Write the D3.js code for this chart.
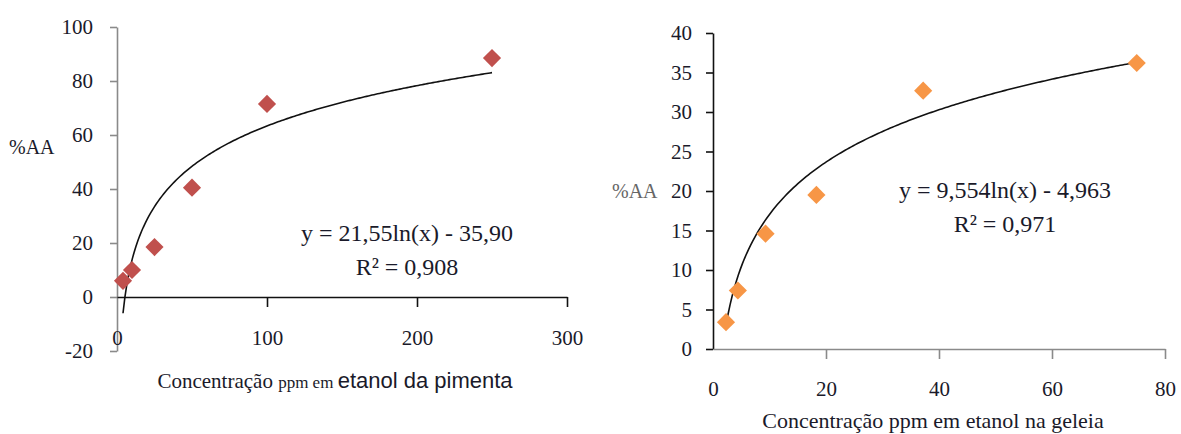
<!DOCTYPE html>
<html>
<head>
<meta charset="utf-8">
<script src="https://cdn.jsdelivr.net/npm/d3@7"></script>
<style>
  html, body { margin: 0; padding: 0; background: #fff; }
  svg { display: block; }
</style>
</head>
<body>
<svg id="chart" width="1181" height="434"></svg>
<script>
// Pepper extract (left panel)
const pepperConc = [4, 10, 25, 50, 100, 250];
const pepperAA   = [6, 10, 18.5, 40.5, 71.5, 88.5];
const pepperFit  = { a: 21.55, b: -35.90, r2: "0,908" };
const pepperXTicks = [0, 100, 200, 300];
const pepperYTicks = [-20, 0, 20, 40, 60, 80, 100];

// Jelly extract (right panel)
const jellyConc = [2.3, 4.4, 9.3, 18.3, 37.2, 75];
const jellyAA   = [3.4, 7.4, 14.6, 19.5, 32.7, 36.2];
const jellyFit  = { a: 9.554, b: -4.963, r2: "0,971" };
const jellyXTicks = [0, 20, 40, 60, 80];
const jellyYTicks = [0, 5, 10, 15, 20, 25, 30, 35, 40];

const SERIF = '"Liberation Serif", "DejaVu Serif", serif';
const SANS = '"Liberation Sans", "DejaVu Sans", sans-serif';
const INK = "#1a1a2a";

const svg = d3.select("#chart");
const fmtCoef = v => String(v).replace(".", ",");
const fmtTick = d => String(d);

function panel(opts) {
  const g = svg.append("g");
  const x = d3.scaleLinear().domain(opts.xDomain).range(opts.xRange);
  const y = d3.scaleLinear().domain(opts.yDomain).range(opts.yRange);

  // y axis
  const yAxis = g.append("g")
    .attr("transform", `translate(${x(0)},0)`)
    .call(d3.axisLeft(y).tickValues(opts.yTicks).tickSize(7).tickSizeOuter(0)
      .tickPadding(opts.yPad).tickFormat(fmtTick));
  yAxis.select(".domain").attr("stroke", opts.yAxisColor).attr("stroke-width", 1.6);
  yAxis.selectAll(".tick line").attr("stroke", opts.yAxisColor).attr("stroke-width", 1.6);
  yAxis.selectAll(".tick text").style("font-family", SERIF).style("font-size", "21px").attr("fill", INK);

  // x axis line with ticks at y = 0
  const xAxis = g.append("g")
    .attr("transform", `translate(0,${y(0)})`)
    .call(d3.axisBottom(x).tickValues(opts.xTicks).tickSize(10).tickSizeOuter(0).tickFormat(""));
  xAxis.select(".domain").attr("stroke", opts.xAxisColor).attr("stroke-width", 1.6);
  xAxis.selectAll(".tick line").attr("stroke", opts.xAxisColor).attr("stroke-width", 1.6);
  xAxis.selectAll(".tick").filter(d => d === 0).select("line").remove();

  // x tick labels sit at the low edge of the plot
  const xLab = g.append("g")
    .attr("transform", `translate(0,${opts.xLabelY})`)
    .call(d3.axisBottom(x).tickValues(opts.xTicks).tickSize(0).tickPadding(0).tickFormat(fmtTick));
  xLab.select(".domain").remove();
  xLab.selectAll(".tick text").style("font-family", SERIF).style("font-size", "21px").attr("fill", INK)
    .attr("dy", "0.35em");

  // logarithmic trendline
  const x0 = d3.min(opts.xs), x1 = d3.max(opts.xs);
  const fitXs = d3.range(0, 201).map(i => x0 + (x1 - x0) * i / 200);
  const line = d3.line().x(d => x(d)).y(d => y(opts.fit.a * Math.log(d) + opts.fit.b));
  g.append("path").datum(fitXs).attr("d", line)
    .attr("fill", "none").attr("stroke", "#111").attr("stroke-width", 1.6);

  // markers
  const diamond = d3.symbol().type(d3.symbolSquare).size(165);
  g.selectAll("path.pt").data(opts.xs.map((v, i) => [v, opts.ys[i]])).join("path")
    .attr("class", "pt")
    .attr("d", diamond)
    .attr("transform", d => `translate(${x(d[0])},${y(d[1])}) rotate(45)`)
    .attr("fill", opts.color);

  // axis titles
  g.append("text")
    .attr("x", opts.yTitle[0]).attr("y", opts.yTitle[1]).attr("dy", "0.35em")
    .style("font-family", SERIF).style("font-size", opts.yTitleSize + "px")
    .attr("fill", opts.yTitleColor).text("%AA");

  const t = g.append("text").attr("text-anchor", "middle")
    .attr("x", opts.xTitle[0]).attr("y", opts.xTitle[1])
    .style("font-family", SERIF).style("font-size", "22px").attr("fill", INK);
  opts.xTitleParts.forEach(p => {
    t.append("tspan").style("font-family", p.sans ? SANS : SERIF)
      .style("font-size", p.size + "px").text(p.text);
  });

  // equation and R²
  const eq = g.append("text").attr("text-anchor", "middle")
    .style("font-family", SERIF).style("font-size", "24px").attr("fill", INK);
  eq.append("tspan").attr("x", opts.eqPos[0]).attr("y", opts.eqPos[1])
    .text(`y = ${fmtCoef(opts.fit.a)}ln(x) - ${opts.fit.bText}`);
  eq.append("tspan").attr("x", opts.eqPos[0]).attr("y", opts.eqPos[1] + 34)
    .text(`R² = ${opts.fit.r2}`);
}

panel({
  xs: pepperConc, ys: pepperAA, fit: Object.assign({ bText: "35,90" }, pepperFit),
  xDomain: [0, 300], xRange: [117, 567],
  yDomain: [-20, 100], yRange: [351, 27],
  xTicks: pepperXTicks, yTicks: pepperYTicks, yPad: 17,
  xLabelY: 338,
  yAxisColor: "#8a8a8a", xAxisColor: "#111",
  color: "#C0504D",
  yTitle: [9, 147], yTitleSize: 20, yTitleColor: INK,
  xTitle: [335, 388],
  xTitleParts: [
    { size: 21, text: "Concentração " },
    { size: 17, text: "ppm em " },
    { size: 22, text: "etanol da pimenta", sans: true }
  ],
  eqPos: [407, 241]
});

panel({
  xs: jellyConc, ys: jellyAA, fit: Object.assign({ bText: "4,963" }, jellyFit),
  xDomain: [0, 80], xRange: [713, 1165],
  yDomain: [0, 40], yRange: [349, 33],
  xTicks: jellyXTicks, yTicks: jellyYTicks, yPad: 14,
  xLabelY: 389,
  yAxisColor: "#111", xAxisColor: "#8a8a8a",
  color: "#F79646",
  yTitle: [612, 191], yTitleSize: 20, yTitleColor: "#666",
  xTitle: [933, 428],
  xTitleParts: [
    { size: 22, text: "Concentração ppm em etanol na geleia" }
  ],
  eqPos: [1005, 198]
});
</script>
</body>
</html>
